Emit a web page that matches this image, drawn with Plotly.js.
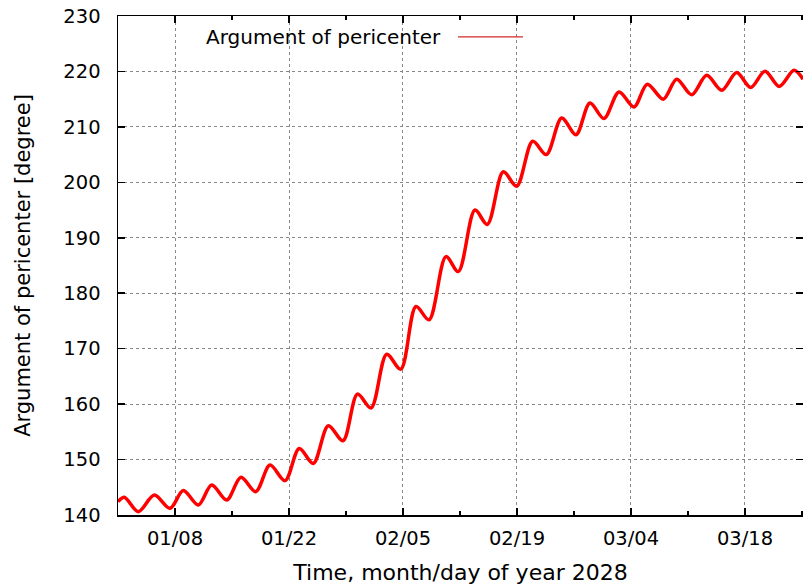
<!DOCTYPE html>
<html>
<head>
<meta charset="utf-8">
<script src="https://cdn.plot.ly/plotly-3.0.1.min.js"></script>
<style>html,body{margin:0;padding:0;background:#fff;}#chart{width:803px;height:587px;}</style>
</head>
<body>
<div id="chart"></div>
<script>
// Days after 2028-01-01 00:00 (read at successive maxima/minima of the curve)
const dayOffset = [0.00, 0.77, 2.49, 4.46, 6.39, 8.02, 9.86, 11.51, 13.35, 15.10, 16.91, 18.67, 20.51, 22.26, 23.98,
  25.83, 27.63, 29.41, 31.07, 33.00, 34.72, 36.60, 38.19, 40.28, 41.79, 43.84, 45.35, 47.32, 48.96, 50.93, 52.60,
  54.49, 56.25, 57.96, 59.68, 61.53, 63.37, 65.00, 66.97, 68.61, 70.45, 72.30, 74.14, 75.98, 77.70, 79.46, 81.21,
  83.02, 84.13];
// Argument of pericenter [degree]
const argPericenter = [142.4, 143.2, 140.6, 143.6, 141.2, 144.4, 141.8, 145.4, 142.7, 146.8, 144.2, 149.0, 146.2, 152.0, 149.3,
  156.1, 153.4, 161.8, 159.3, 169.0, 166.3, 177.6, 175.2, 186.6, 183.9, 195.0, 192.4, 201.9, 199.3, 207.4, 205.0,
  211.6, 208.6, 214.3, 211.5, 216.3, 213.6, 217.7, 215.0, 218.6, 215.8, 219.3, 216.6, 219.8, 217.1, 220.05, 217.3,
  220.2, 218.6];
const majorTicks = ["2028-01-08", "2028-01-22", "2028-02-05", "2028-02-19", "2028-03-04", "2028-03-18"];
const tickLabels = ["01/08", "01/22", "02/05", "02/19", "03/04", "03/18"];
const seriesName = "Argument of pericenter";

const t0 = Date.UTC(2028, 0, 1);
const dates = dayOffset.map(d => new Date(t0 + d * 86400000).toISOString().slice(0, 19).replace('T', ' '));

const fam = "DejaVu Sans, Liberation Sans, Arial, sans-serif";
const tickFont = {family: fam, size: 19.5, color: "#000"};
const xTitleFont = {family: fam, size: 22, color: "#000"};
const yTitleFont = {family: fam, size: 21, color: "#000"};
const legendFont = {family: fam, size: 20, color: "#000"};

const trace = {
  x: dates, y: argPericenter, type: "scatter", mode: "lines", name: seriesName,
  line: {color: "#ff0000", width: 3.5, shape: "spline", smoothing: 0.9},
  showlegend: false
};

const layout = {
  width: 803, height: 587,
  margin: {l: 118, r: 0, t: 16, b: 72},
  paper_bgcolor: "#fff", plot_bgcolor: "#fff",
  font: tickFont,
  xaxis: {
    type: "date",
    range: ["2028-01-01", "2028-03-25 03:00"],
    tickmode: "array", tickvals: majorTicks, ticktext: tickLabels,
    ticks: "inside", ticklen: 7, tickwidth: 1.5, tickcolor: "#000",
    showline: true, linecolor: "#000", linewidth: 1.5, mirror: "ticks",
    showgrid: true, gridcolor: "#888", griddash: "dot", gridwidth: 1,
    zeroline: false,
    ticklabelstandoff: 5,
    minor: {dtick: 7 * 86400000, tick0: "2028-01-01", ticks: "inside", ticklen: 4, tickcolor: "#000", tickwidth: 1.5, showgrid: false},
    title: {text: "Time, month/day of year 2028", font: xTitleFont, standoff: 15},
    tickfont: tickFont
  },
  yaxis: {
    range: [140, 230], dtick: 10, tick0: 140,
    ticks: "inside", ticklen: 7, tickwidth: 1.5, tickcolor: "#000",
    showline: true, linecolor: "#000", linewidth: 1.5, mirror: "ticks",
    showgrid: true, gridcolor: "#888", griddash: "dot", gridwidth: 1,
    zeroline: false,
    ticklabelstandoff: 12,
    title: {text: "Argument of pericenter [degree]", font: yTitleFont, standoff: 27},
    tickfont: tickFont
  },
  shapes: [
    {type: "rect", xref: "paper", yref: "paper", x0: 0.06, x1: 0.62, y0: 0.938, y1: 0.997,
     fillcolor: "#fff", line: {width: 0}, layer: "between"},
    {type: "line", xref: "paper", yref: "paper", x0: 0.4964, x1: 0.5912, y0: 0.958, y1: 0.958,
     line: {color: "#d42a2a", width: 1.3}, layer: "above"}
  ],
  annotations: [
    {xref: "paper", yref: "paper", x: 0.4745, y: 0.958, xanchor: "right", yanchor: "middle",
     text: seriesName, showarrow: false, font: legendFont}
  ]
};

Plotly.newPlot("chart", [trace], layout, {displayModeBar: false, staticPlot: true});
</script>
</body>
</html>
